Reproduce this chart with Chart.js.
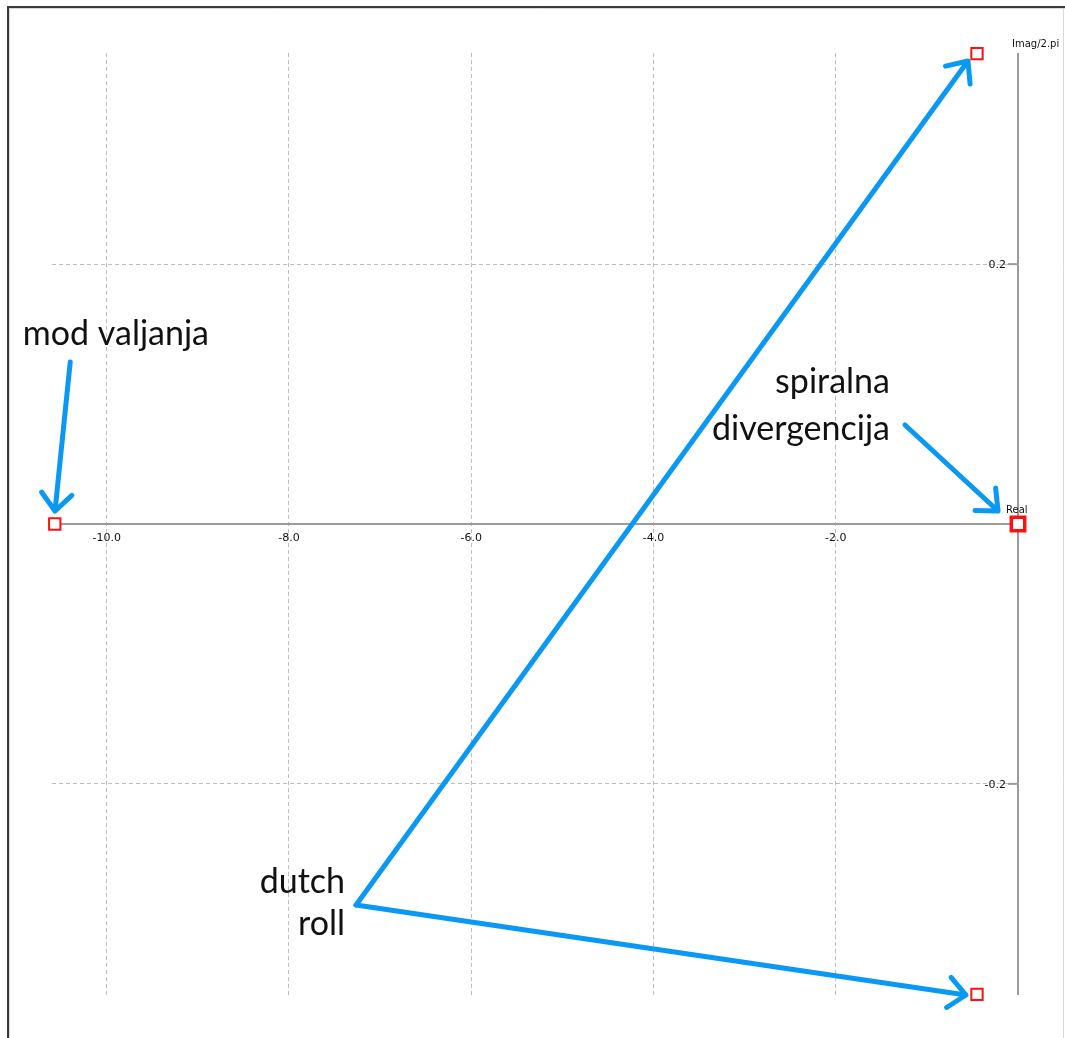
<!DOCTYPE html>
<html>
<head>
<meta charset="utf-8">
<script src="https://cdn.jsdelivr.net/npm/chart.js@4.4.1/dist/chart.umd.min.js"></script>
<style>
  html, body { margin: 0; padding: 0; background: #fff; }
  #okvir { position: relative; width: 1065px; height: 1038px; }
</style>
</head>
<body>
<div id="okvir"><canvas id="grafik" width="1065" height="1038"></canvas></div>
<script>
// Polovi lateralnog gibanja (Real, Imag/2.pi)
const nazivi = ['mod valjanja', 'dutch roll', 'dutch roll', 'spiralna divergencija'];
const realniDio = [-10.57, -0.45, -0.45, 0.0];
const imagDio = [0.0, 0.362, -0.362, 0.0];
const xOznake = [-10, -8, -6, -4, -2];
const yOznake = [-0.2, 0.2];
const xGranice = [-10.6, 0];
const yGranice = [-0.3625, 0.3625];

// Natpisi i strelice, u jedinicama osi
const natpisi = [
  { tekst: 'mod valjanja', x: -10.92, y: 0.1378, poravnanje: 'left' },
  { tekst: 'spiralna', x: -1.405, y: 0.1008, poravnanje: 'right' },
  { tekst: 'divergencija', x: -1.405, y: 0.0647, poravnanje: 'right' },
  { tekst: 'dutch', x: -7.385, y: -0.284, poravnanje: 'right' },
  { tekst: 'roll', x: -7.385, y: -0.3163, poravnanje: 'right' }
];
const strelice = [
  { od: [-10.40, 0.1247], do: [-10.567, 0.0100] },
  { od: [-1.240, 0.0762], do: [-0.219, 0.0100] },
  { od: [-7.264, -0.2932], do: [-0.549, 0.3563] },
  { od: [-7.264, -0.2932], do: [-0.571, -0.3625] }
];

const PLAVA = '#0a98f5';
const OS = '#9c9c9c';

const tocke = (uvjet) => realniDio
  .map((x, i) => ({ x, y: imagDio[i], naziv: nazivi[i] }))
  .filter((t, i) => uvjet(i));

const dodatak = {
  id: 'korijeni',
  beforeDraw(chart) {
    const c = chart.ctx;
    c.save();
    c.fillStyle = '#fff';
    c.fillRect(0, 0, chart.width, chart.height);
    // okvir prozora
    c.strokeStyle = '#3a3a3a';
    c.lineWidth = 2;
    c.beginPath();
    c.moveTo(8, chart.height);
    c.lineTo(8, 7);
    c.lineTo(chart.width, 7);
    c.stroke();
    c.strokeStyle = '#d8d8d8';
    c.lineWidth = 1;
    c.beginPath();
    c.moveTo(9.5, chart.height);
    c.lineTo(9.5, 8.5);
    c.lineTo(chart.width, 8.5);
    c.moveTo(chart.width - 1.5, 8);
    c.lineTo(chart.width - 1.5, chart.height);
    c.stroke();
    c.restore();
  },
  beforeDatasetsDraw(chart) {
    const c = chart.ctx;
    const sx = chart.scales.x, sy = chart.scales.y;
    const a = chart.chartArea;
    const x0 = sx.getPixelForValue(0);
    const y0 = sy.getPixelForValue(0);
    c.save();
    c.strokeStyle = OS;
    c.lineWidth = 2;
    c.beginPath();
    c.moveTo(a.left, y0);
    c.lineTo(x0, y0);
    c.moveTo(x0, a.top);
    c.lineTo(x0, a.bottom);
    c.stroke();

    c.font = '11px "DejaVu Sans", sans-serif';
    c.fillStyle = '#111';
    c.textAlign = 'center';
    c.textBaseline = 'top';
    xOznake.forEach(v => {
      c.fillText(v.toFixed(1), sx.getPixelForValue(v), y0 + 9);
    });
    c.textAlign = 'right';
    c.textBaseline = 'middle';
    yOznake.forEach(v => {
      const py = sy.getPixelForValue(v);
      c.beginPath();
      c.moveTo(x0 - 10, py);
      c.lineTo(x0, py);
      c.stroke();
      c.fillText(v.toFixed(1), x0 - 12, py + 1);
    });
    c.textAlign = 'left';
    c.textBaseline = 'alphabetic';
    c.font = '10px "DejaVu Sans", sans-serif';
    c.fillText('Real', x0 - 12, y0 - 11);
    c.fillText('Imag/2.pi', x0 - 6, a.top - 6);
    c.restore();
  },
  afterDatasetsDraw(chart) {
    const c = chart.ctx;
    const sx = chart.scales.x, sy = chart.scales.y;
    c.save();
    c.strokeStyle = PLAVA;
    c.lineWidth = 5;
    c.lineCap = 'round';
    c.lineJoin = 'round';
    strelice.forEach(s => {
      const x1 = sx.getPixelForValue(s.od[0]), y1 = sy.getPixelForValue(s.od[1]);
      const x2 = sx.getPixelForValue(s.do[0]), y2 = sy.getPixelForValue(s.do[1]);
      const kut = Math.atan2(y2 - y1, x2 - x1);
      const krak = 23, otvor = 0.72;
      c.beginPath();
      c.moveTo(x1, y1);
      c.lineTo(x2, y2);
      c.moveTo(x2 - krak * Math.cos(kut - otvor), y2 - krak * Math.sin(kut - otvor));
      c.lineTo(x2, y2);
      c.lineTo(x2 - krak * Math.cos(kut + otvor), y2 - krak * Math.sin(kut + otvor));
      c.stroke();
    });
    c.fillStyle = '#111';
    c.font = '34px Lato, "Open Sans", sans-serif';
    c.textBaseline = 'alphabetic';
    natpisi.forEach(n => {
      c.textAlign = n.poravnanje;
      c.fillText(n.tekst, sx.getPixelForValue(n.x), sy.getPixelForValue(n.y));
    });
    c.restore();
  }
};

new Chart(document.getElementById('grafik'), {
  type: 'scatter',
  data: {
    datasets: [
      {
        label: 'polovi',
        data: tocke(i => i < 3),
        pointStyle: 'rect',
        pointRadius: 8,
        pointBorderWidth: 2,
        pointBorderColor: '#ff1010',
        pointBackgroundColor: '#ffffff',
        clip: false
      },
      {
        label: 'spiralna',
        data: tocke(i => i === 3),
        pointStyle: 'rect',
        pointRadius: 9.5,
        pointBorderWidth: 3.5,
        pointBorderColor: '#ff1010',
        pointBackgroundColor: '#ffffff',
        clip: false
      }
    ]
  },
  options: {
    responsive: false,
    animation: false,
    devicePixelRatio: 1,
    layout: { padding: { left: 52, right: 47, top: 53, bottom: 43 } },
    plugins: { legend: { display: false }, tooltip: { enabled: false } },
    scales: {
      x: {
        type: 'linear',
        min: xGranice[0],
        max: xGranice[1],
        afterBuildTicks: s => { s.ticks = xOznake.map(v => ({ value: v })); },
        ticks: { display: false },
        grid: { color: '#bdbdbd', lineWidth: 1, drawTicks: false },
        border: { display: false, dash: [4, 3] }
      },
      y: {
        type: 'linear',
        min: yGranice[0],
        max: yGranice[1],
        afterBuildTicks: s => { s.ticks = yOznake.map(v => ({ value: v })); },
        ticks: { display: false },
        grid: { color: '#bdbdbd', lineWidth: 1, drawTicks: false },
        border: { display: false, dash: [4, 3] }
      }
    }
  },
  plugins: [dodatak]
});
</script>
</body>
</html>
